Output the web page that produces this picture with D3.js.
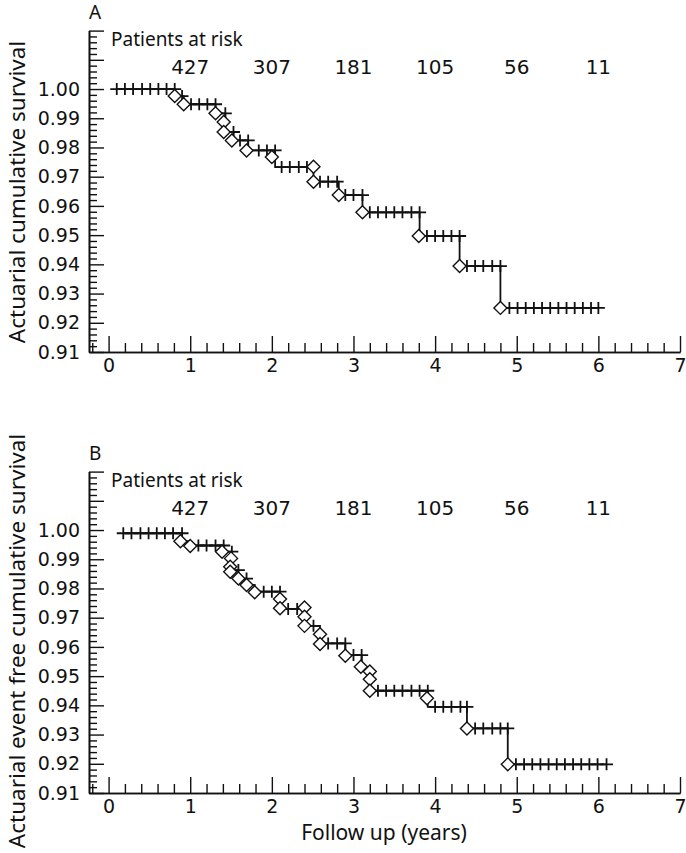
<!DOCTYPE html>
<html>
<head>
<meta charset="utf-8">
<script src="https://cdn.jsdelivr.net/npm/d3@7/dist/d3.min.js"></script>
<style>
  body { margin: 0; background: #fff; }
  text { font-family: "Noto Sans", sans-serif; fill: #111; }
  .num { font-family: "DejaVu Sans", sans-serif; }
</style>
</head>
<body>
<svg id="chart" width="686" height="853"></svg>
<script>
// tick labels
var xTicks = [0, 1, 2, 3, 4, 5, 6, 7];
var yTicks = [0.91, 0.92, 0.93, 0.94, 0.95, 0.96, 0.97, 0.98, 0.99, 1.00, 1.01, 1.02];

// patients at risk
var riskYears = [1, 2, 3, 4, 5, 6];
var riskCounts = [427, 307, 181, 105, 56, 11];

// panel A : actuarial survival
var startA = 1.000;
var dropTimesA = [0.81, 0.92, 1.31, 1.43, 1.43, 1.53, 1.71, 2.04, 2.04, 2.51, 2.82, 3.11, 3.81, 4.30, 4.80];
var dropSurvA = [0.9976, 0.9948, 0.9917, 0.9887, 0.9853, 0.9824, 0.9790, 0.9767, 0.9733, 0.9683, 0.9637, 0.9578, 0.9497, 0.9394, 0.9251];
var eventTimesA = [0.81, 0.92, 1.31, 1.41, 1.41, 1.51, 1.69, 2.00, 2.51, 2.51, 2.82, 3.11, 3.80, 4.30, 4.80];
var eventSurvA = [0.9976, 0.9948, 0.9917, 0.9887, 0.9853, 0.9824, 0.9790, 0.9767, 0.9734, 0.9683, 0.9637, 0.9578, 0.9497, 0.9394, 0.9251];
var censorTimesA = [0.10, 0.20, 0.30, 0.41, 0.51, 0.61, 0.71, 0.81, 0.90, 1.01, 1.11, 1.21, 1.31, 1.43, 1.53,
  1.61, 1.71, 1.84, 1.94, 2.04, 2.12, 2.22, 2.33, 2.43, 2.59, 2.69, 2.80, 2.90, 3.00, 3.11,
  3.20, 3.30, 3.40, 3.50, 3.60, 3.71, 3.81, 3.90, 4.00, 4.10, 4.20, 4.30, 4.39, 4.49, 4.59, 4.70, 4.80,
  4.91, 5.01, 5.11, 5.21, 5.31, 5.41, 5.51, 5.61, 5.71, 5.81, 5.91, 6.00];

// panel B : actuarial event free survival
var startB = 0.9989;
var dropTimesB = [0.90, 1.00, 1.41, 1.51, 1.51, 1.59, 1.69, 1.79, 2.10, 2.10, 2.41, 2.41, 2.59, 2.59, 2.90,
  3.10, 3.20, 3.20, 3.20, 3.91, 3.91, 4.39, 4.89];
var dropSurvB = [0.9962, 0.9947, 0.9926, 0.9903, 0.9863, 0.9834, 0.9812, 0.9789, 0.9763, 0.9730, 0.9703, 0.9672, 0.9640, 0.9612, 0.9572,
  0.9532, 0.9515, 0.9489, 0.9450, 0.9424, 0.9395, 0.9321, 0.9198];
var eventTimesB = [0.88, 1.00, 1.39, 1.50, 1.49, 1.49, 1.59, 1.69, 1.79, 2.10, 2.10, 2.40, 2.40, 2.40, 2.59, 2.59,
  2.90, 3.09, 3.20, 3.20, 3.20, 3.90, 4.39, 4.89];
var eventSurvB = [0.9962, 0.9945, 0.9926, 0.9903, 0.9874, 0.9857, 0.9834, 0.9812, 0.9787, 0.9764, 0.9732, 0.9735, 0.9703, 0.9672, 0.9643, 0.9610,
  0.9570, 0.9532, 0.9516, 0.9489, 0.9450, 0.9424, 0.9321, 0.9198];
var censorTimesB = [0.18, 0.28, 0.39, 0.49, 0.59, 0.69, 0.79, 0.90, 1.10, 1.20, 1.31, 1.41, 1.51, 1.59, 1.69,
  1.90, 2.00, 2.10, 2.20, 2.31, 2.51, 2.69, 2.80, 2.90, 3.00, 3.10, 3.30, 3.40, 3.50, 3.60, 3.71, 3.81, 3.91,
  4.00, 4.10, 4.20, 4.31, 4.39, 4.49, 4.59, 4.70, 4.80, 4.89, 4.99, 5.09, 5.19, 5.29, 5.39, 5.49, 5.59, 5.69,
  5.79, 5.89, 5.99, 6.10];

var svg = d3.select('#chart');
var ink = '#111';
var x = d3.scaleLinear().domain([-0.24, 7]).range([89, 680]);

var xMinor = d3.range(-0.2, 7, 0.2).filter(function (d) { return Math.abs(d - Math.round(d)) > 0.01; });
var yMinor = d3.range(0.912, 1.0199, 0.002).filter(function (d) { return Math.abs(d * 100 - Math.round(d * 100)) > 0.01; });

drawPanel({
  top: 0, label: 'A', title: 'Actuarial cumulative survival', titleY: 192,
  start: startA, dropT: dropTimesA, dropS: dropSurvA, evT: eventTimesA, evS: eventSurvA, cen: censorTimesA
});
drawPanel({
  top: 441, label: 'B', title: 'Actuarial event free cumulative survival', titleY: 641,
  start: startB, dropT: dropTimesB, dropS: dropSurvB, evT: eventTimesB, evS: eventSurvB, cen: censorTimesB
});

//x axis title
svg.append('text')
  .attr('x', 384).attr('y', 840)
  .attr('text-anchor', 'middle')
  .style('font-size', '21px')
  .text('Follow up (years)');

function levelAt(t, p) {
  var s = p.start;
  p.dropT.forEach(function (d, i) { if (d < t) s = p.dropS[i]; });
  return s;
}

function drawPanel(p) {
  var g = svg.append('g');
  var y = d3.scaleLinear().domain([0.91, 1.02]).range([p.top + 352, p.top + 30.6]);

  //x axis
  g.append('g')
    .attr('transform', 'translate(0,' + y(0.91) + ')')
    .call(d3.axisBottom(x).tickValues(xMinor).tickSizeInner(-9).tickSizeOuter(0).tickFormat(''))
    .call(style);
  g.append('g')
    .attr('transform', 'translate(0,' + y(0.91) + ')')
    .call(d3.axisBottom(x).tickValues(xTicks).tickSizeInner(-16).tickSizeOuter(0).tickPadding(7))
    .call(style)
    .selectAll('text').attr('class', 'num').style('font-size', '19px');

  //y axis
  g.append('g')
    .attr('transform', 'translate(' + x.range()[0] + ',0)')
    .call(d3.axisLeft(y).tickValues(yMinor).tickSizeInner(-8).tickSizeOuter(0).tickFormat(''))
    .call(style);
  g.append('g')
    .attr('transform', 'translate(' + x.range()[0] + ',0)')
    .call(d3.axisLeft(y).tickValues(yTicks).tickSizeInner(-15).tickSizeOuter(0).tickPadding(9)
      .tickFormat(function (d) { return d < 1.005 ? d3.format('.2f')(d) : ''; }))
    .call(style)
    .selectAll('text').attr('class', 'num').style('font-size', '19px');

  //panel letter, y title
  g.append('text').attr('x', 89).attr('y', p.top + 19).style('font-size', '19px').text(p.label);
  g.append('text')
    .attr('transform', 'translate(25,' + p.titleY + ') rotate(-90)')
    .attr('text-anchor', 'middle')
    .style('font-size', '22.5px')
    .text(p.title);

  //patients at risk
  g.append('text').attr('x', 111).attr('y', p.top + 46).style('font-size', '19px').text('Patients at risk');
  g.selectAll('.risk')
    .data(riskCounts).enter()
    .append('text')
    .attr('class', 'risk num')
    .attr('x', function (d, i) { return x(riskYears[i]); })
    .attr('y', p.top + 74)
    .attr('text-anchor', 'middle')
    .style('font-size', '20px')
    .text(function (d) { return d; });

  //step curve
  var pts = [[p.cen[0], p.start]];
  var prev = p.start;
  p.dropT.forEach(function (t, i) {
    pts.push([t, prev]);
    pts.push([t, p.dropS[i]]);
    prev = p.dropS[i];
  });
  pts.push([p.cen[p.cen.length - 1], prev]);
  g.append('path')
    .datum(pts)
    .attr('fill', 'none')
    .attr('stroke', ink)
    .attr('stroke-width', 1.8)
    .attr('d', d3.line().x(function (d) { return x(d[0]); }).y(function (d) { return y(d[1]); }));

  //censored
  g.selectAll('.cen')
    .data(p.cen).enter()
    .append('path')
    .attr('class', 'cen')
    .attr('transform', function (d) { return 'translate(' + x(d) + ',' + y(levelAt(d, p)) + ')'; })
    .attr('d', 'M-6.5,0H6.5M0,-6V6')
    .attr('stroke', ink)
    .attr('stroke-width', 1.8)
    .attr('fill', 'none');

  //events
  g.selectAll('.ev')
    .data(p.evT).enter()
    .append('path')
    .attr('class', 'ev')
    .attr('transform', function (d, i) { return 'translate(' + x(d) + ',' + y(p.evS[i]) + ')'; })
    .attr('d', 'M0,-6.5L6.5,0L0,6.5L-6.5,0Z')
    .attr('stroke', ink)
    .attr('stroke-width', 1.4)
    .attr('fill', '#fff');
}

function style(sel) {
  sel.select('.domain').attr('stroke', ink).attr('stroke-width', 1.6);
  sel.selectAll('.tick line').attr('stroke', ink).attr('stroke-width', 1.4);
  sel.selectAll('.tick text').attr('fill', ink);
}
</script>
</body>
</html>
